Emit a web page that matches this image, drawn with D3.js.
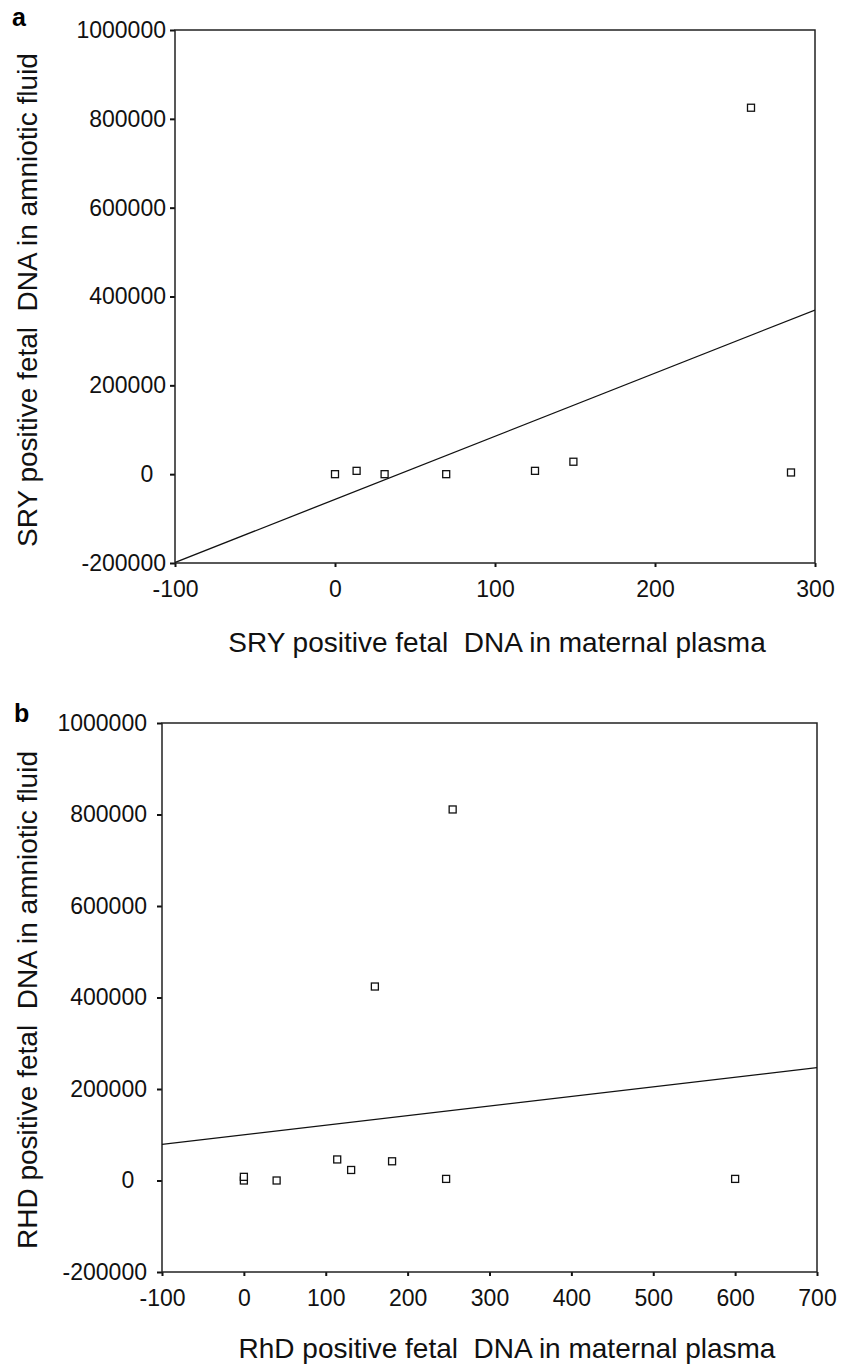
<!DOCTYPE html>
<html lang="en">
<head>
<meta charset="UTF-8">
<title>Fetal DNA scatter</title>
<script src="https://cdn.jsdelivr.net/npm/d3@7"></script>
<style>
  body { margin: 0; background: #fff; }
  svg { display: block; font-family: "Liberation Sans", Arial, Helvetica, sans-serif; }
  text { white-space: pre; }
</style>
</head>
<body>
<div id="chart"></div>
<script>
// panel a: SRY
var sryPlasma   = [0, 13.5, 31, 69.5, 125, 149, 260, 285];
var sryAmniotic = [0, 7500, 0, 0, 7500, 28000, 825000, 3800];
var sryXTicks   = [-100, 0, 100, 200, 300];

// panel b: RhD
var rhdPlasma   = [0, 0, 40, 114, 131, 160, 181, 247, 255, 600];
var rhdAmniotic = [0, 8000, 0, 46000, 23000, 424000, 42000, 3500, 811000, 3500];
var rhdXTicks   = [-100, 0, 100, 200, 300, 400, 500, 600, 700];

var yTicks = [-200000, 0, 200000, 400000, 600000, 800000, 1000000];

var svg = d3.select("#chart").append("svg")
    .attr("width", 853)
    .attr("height", 1364);

// plain hyphen minus like the original
var fmt = function(d) { return String(d); };

// least squares fit line
function fit(xs, ys) {
    var mx = d3.mean(xs), my = d3.mean(ys);
    var sxy = d3.sum(xs, function(x, i) { return (x - mx) * (ys[i] - my); });
    var sxx = d3.sum(xs, function(x) { return (x - mx) * (x - mx); });
    var b = sxy / sxx;
    return { a: my - b * mx, b: b };
}

function panel(p) {
    var x = d3.scaleLinear().domain([p.xTicks[0], p.xTicks[p.xTicks.length - 1]]).range([p.left, p.right]);
    var y = d3.scaleLinear().domain([-200000, 1000000]).range([p.bottom, p.top]);

    var g = svg.append("g");

    var yAxis = g.append("g")
        .attr("transform", "translate(" + p.left + ",0)")
        .call(d3.axisLeft(y).tickValues(yTicks).tickSize(5).tickPadding(p.yPad).tickFormat(fmt));
    var xAxis = g.append("g")
        .attr("transform", "translate(0," + p.bottom + ")")
        .call(d3.axisBottom(x).tickValues(p.xTicks).tickSize(4).tickFormat(fmt));

    [yAxis, xAxis].forEach(function(ax) {
        ax.select(".domain").remove();
        ax.selectAll("line").attr("stroke", "#111").attr("stroke-width", 2);
        ax.selectAll("text").attr("font-size", 23).attr("fill", "#111")
            .attr("font-family", "Liberation Sans, Arial, sans-serif");
    });
    // SPSS leaves the zero label shifted left
    yAxis.selectAll("text").filter(function(d) { return d === 0; }).attr("dx", "-0.556em");
    xAxis.selectAll("text").attr("y", 34).attr("dy", null);

    // frame
    g.append("rect")
        .attr("x", p.left).attr("y", p.top)
        .attr("width", p.right - p.left).attr("height", p.bottom - p.top)
        .attr("fill", "none").attr("stroke", "#222").attr("stroke-width", 1.5);

    g.append("clipPath").attr("id", "clip" + p.name)
        .append("rect")
        .attr("x", p.left).attr("y", p.top)
        .attr("width", p.right - p.left).attr("height", p.bottom - p.top);

    var f = fit(p.xs, p.ys);
    var x0 = x.domain()[0], x1 = x.domain()[1];
    g.append("line")
        .attr("clip-path", "url(#clip" + p.name + ")")
        .attr("x1", x(x0)).attr("y1", y(f.a + f.b * x0))
        .attr("x2", x(x1)).attr("y2", y(f.a + f.b * x1))
        .attr("stroke", "#111").attr("stroke-width", 1.3);

    g.selectAll(".pt")
        .data(p.xs.map(function(v, i) { return [v, p.ys[i]]; }))
        .enter().append("rect")
        .attr("class", "pt")
        .attr("x", function(d) { return x(d[0]) - 3.5; })
        .attr("y", function(d) { return y(d[1]) - 3.5; })
        .attr("width", 7).attr("height", 7)
        .attr("fill", "#fff").attr("stroke", "#111").attr("stroke-width", 1.3);

    g.append("text")
        .attr("x", p.letterX).attr("y", p.letterY)
        .attr("font-size", 25).attr("font-weight", "bold")
        .text(p.name);

    g.append("text")
        .attr("transform", "translate(37," + p.yTitleC + ") rotate(-90)")
        .attr("text-anchor", "middle")
        .attr("font-size", 28).attr("fill", "#111")
        .text(p.yTitle);

    g.append("text")
        .attr("x", p.xTitleC).attr("y", p.xTitleY)
        .attr("text-anchor", "middle")
        .attr("font-size", 28).attr("fill", "#111")
        .text(p.xTitle);
}

panel({
    name: "a", xs: sryPlasma, ys: sryAmniotic, xTicks: sryXTicks,
    left: 175, right: 815, top: 30, bottom: 563, yPad: 4,
    letterX: 12, letterY: 26,
    yTitle: "SRY positive fetal  DNA in amniotic fluid", yTitleC: 300,
    xTitle: "SRY positive fetal  DNA in maternal plasma", xTitleC: 497, xTitleY: 652
});

panel({
    name: "b", xs: rhdPlasma, ys: rhdAmniotic, xTicks: rhdXTicks,
    left: 162, right: 817, top: 723, bottom: 1272, yPad: 10,
    letterX: 14, letterY: 722,
    yTitle: "RHD positive fetal  DNA in amniotic fluid", yTitleC: 1000,
    xTitle: "RhD positive fetal  DNA in maternal plasma", xTitleC: 507, xTitleY: 1358
});
</script>
</body>
</html>
